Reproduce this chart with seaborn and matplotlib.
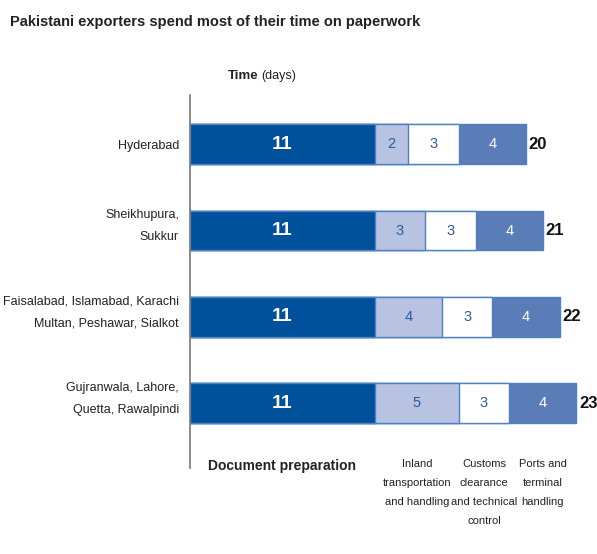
import matplotlib
matplotlib.use("Agg")
import matplotlib.pyplot as plt
import matplotlib.transforms as mtransforms
import seaborn as sns
import pandas as pd

cities = ["Hyderabad", "Sheikhupura,\nSukkur",
          "Faisalabad, Islamabad, Karachi\nMultan, Peshawar, Sialkot",
          "Gujranwala, Lahore,\nQuetta, Rawalpindi"]
doc_prep = [11, 11, 11, 11]
inland = [2, 3, 4, 5]
customs = [3, 3, 3, 3]
ports = [4, 4, 4, 4]
stage_names = ["Document preparation", "Inland\ntransportation\nand handling",
               "Customs\nclearance\nand technical\ncontrol", "Ports and\nterminal\nhandling"]
stage_colors = ["#00519b", "#b7c3e0", "#ffffff", "#5a7db7"]
text_colors = ["white", "#2c5aa0", "#2c5aa0", "white"]

sns.set_style("white")
plt.rcParams["font.family"] = ["Liberation Sans", "DejaVu Sans"]

df = pd.DataFrame({"city": cities, "doc": doc_prep, "inland": inland,
                   "customs": customs, "ports": ports})
parts = ["doc", "inland", "customs", "ports"]
cum = df[parts].cumsum(axis=1)
df["total"] = cum["ports"]

fig = plt.figure(figsize=(5.97, 5.54), dpi=100)
ax = fig.add_axes([190 / 597, 1 - 468 / 554, 400 / 597, 373 / 554])

# draw cumulative bars from longest to shortest so they stack visually
for i in range(3, -1, -1):
    sns.barplot(x=cum[parts[i]], y=df["city"], orient="h", ax=ax,
                color=stage_colors[i], edgecolor="#4f80c4", linewidth=1,
                width=0.46, saturation=1)

for row in range(len(df)):
    left = 0
    for i, p in enumerate(parts):
        v = df.loc[row, p]
        size = 14 if i == 0 else 10.5
        ax.text(left + v / 2, row, str(v), ha="center", va="center",
                color=text_colors[i], fontsize=size,
                fontweight="bold" if i == 0 else "normal")
        left += v
    ax.text(df.loc[row, "total"] + 0.15, row, str(df.loc[row, "total"]),
            ha="left", va="center", fontsize=12, fontweight="bold", color="#111111")

ax.set_xlim(0, 400 / 16.8)
ax.set_ylim(3.75, -0.57)
ax.set_xlabel("")
ax.set_ylabel("")
ax.set_xticks([])
ax.set_yticks(range(len(cities)))
ax.set_yticklabels(cities, fontsize=9, linespacing=2.1, color="#222222")
ax.tick_params(axis="y", length=0, pad=8)
# two-line labels sit a little low with the wide line spacing; nudge them up
for lab in ax.get_yticklabels():
    if "\n" in lab.get_text():
        lab.set_transform(lab.get_transform() +
                          mtransforms.ScaledTranslation(0, 8 / 72, fig.dpi_scale_trans))
for s in ["top", "right", "bottom"]:
    ax.spines[s].set_visible(False)
ax.spines["left"].set_color("#777777")
ax.spines["left"].set_linewidth(1.2)

# stage labels centred under the segments of the last bar
last = len(df) - 1
left = 0
for i, p in enumerate(parts):
    v = df.loc[last, p]
    ax.text(left + v / 2, 3.65, stage_names[i], ha="center", va="top",
            fontsize=10 if i == 0 else 8, fontweight="bold" if i == 0 else "normal",
            linespacing=2.1, color="#222222")
    left += v

fig.text(10 / 597, 1 - 22 / 554, "Pakistani exporters spend most of their time on paperwork",
         fontsize=10.5, fontweight="bold", color="#222222", va="center")
fig.text(228 / 597, 1 - 76 / 554, "Time", fontsize=9.5, fontweight="bold",
         va="center", color="#222222")
fig.text(261 / 597, 1 - 76 / 554, "(days)", fontsize=9, va="center", color="#222222")

fig.savefig("out.png", dpi=100)
